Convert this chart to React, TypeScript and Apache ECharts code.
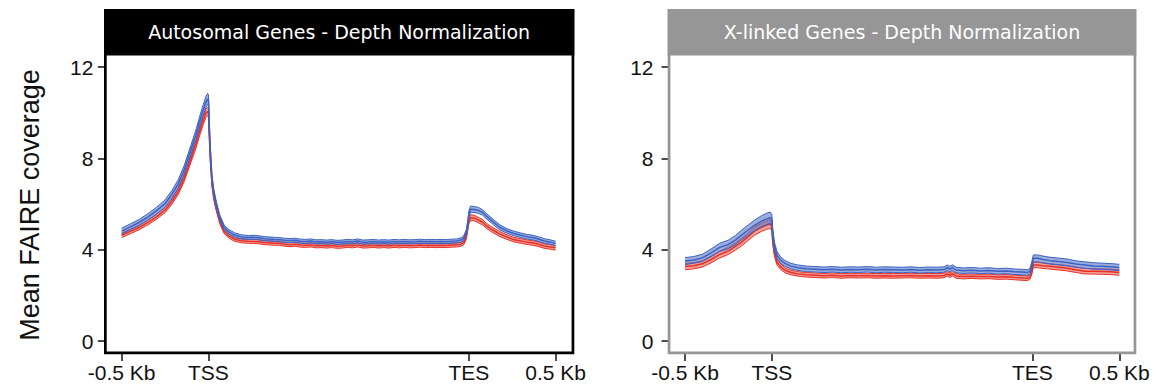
import React, { useEffect, useRef } from "react";
import * as echarts from "echarts";

// ---- axis ticks ----
const X_TICK_POS = [0, 100, 400, 500];
const X_TICK_LABELS = ["-0.5 Kb", "TSS", "TES", "0.5 Kb"];
const Y_TICK_POS = [0, 4, 8, 12];

const PANEL_TITLES = ["Autosomal Genes - Depth Normalization", "X-linked Genes - Depth Normalization"];
const Y_TITLE = "Mean FAIRE coverage";

// ---- Autosomal panel (metagene position: 0 = -0.5 Kb, 100 = TSS, 400 = TES, 500 = +0.5 Kb) ----
const AUTO_POS = [0, 10, 20, 30, 40, 50, 58, 65, 72, 80, 86, 90, 94, 97, 99, 100, 101, 102, 104, 106, 109, 113, 118, 124, 130, 138, 146, 152, 158, 164, 170, 176, 182, 188, 194, 200, 206, 212, 218, 224, 230, 236, 242, 248, 254, 260, 266, 272, 278, 284, 290, 296, 302, 308, 314, 320, 326, 332, 338, 344, 350, 356, 362, 368, 374, 380, 386, 391, 394, 397, 399, 400, 402, 406, 411, 416, 420, 428, 436, 444, 451, 460, 468, 474, 480, 487, 494, 500];
const AUTO_BLUE = [4.81, 5.0, 5.19, 5.43, 5.7, 6.02, 6.43, 6.87, 7.49, 8.4, 9.09, 9.63, 10.12, 10.46, 10.6, 10.55, 9.4, 8.45, 7.15, 6.55, 6.0, 5.42, 4.98, 4.77, 4.64, 4.56, 4.53, 4.54, 4.52, 4.48, 4.47, 4.45, 4.44, 4.41, 4.4, 4.41, 4.37, 4.36, 4.38, 4.34, 4.35, 4.33, 4.35, 4.32, 4.33, 4.36, 4.34, 4.38, 4.33, 4.34, 4.36, 4.33, 4.35, 4.33, 4.36, 4.34, 4.36, 4.34, 4.35, 4.37, 4.35, 4.36, 4.35, 4.36, 4.35, 4.37, 4.38, 4.42, 4.5, 4.75, 5.2, 5.55, 5.77, 5.76, 5.72, 5.63, 5.48, 5.22, 4.97, 4.82, 4.72, 4.63, 4.56, 4.53, 4.47, 4.38, 4.33, 4.27];
const AUTO_BLUE_SE = [0.13, 0.13, 0.13, 0.14, 0.15, 0.16, 0.17, 0.18, 0.19, 0.2, 0.21, 0.22, 0.23, 0.24, 0.24, 0.24, 0.2, 0.17, 0.14, 0.13, 0.12, 0.11, 0.1, 0.1, 0.1, 0.09, 0.09, 0.09, 0.09, 0.09, 0.09, 0.09, 0.09, 0.09, 0.09, 0.09, 0.09, 0.09, 0.09, 0.09, 0.09, 0.09, 0.09, 0.09, 0.09, 0.09, 0.09, 0.09, 0.09, 0.09, 0.09, 0.09, 0.09, 0.09, 0.09, 0.09, 0.09, 0.09, 0.09, 0.09, 0.09, 0.09, 0.09, 0.09, 0.09, 0.09, 0.09, 0.1, 0.1, 0.11, 0.12, 0.13, 0.14, 0.13, 0.13, 0.12, 0.12, 0.11, 0.11, 0.1, 0.1, 0.1, 0.1, 0.1, 0.1, 0.1, 0.1, 0.1];
const AUTO_RED = [4.63, 4.8, 4.97, 5.19, 5.44, 5.74, 6.12, 6.53, 7.12, 7.99, 8.66, 9.18, 9.66, 9.97, 10.05, 10.0, 9.0, 8.1, 6.9, 6.33, 5.8, 5.24, 4.8, 4.58, 4.46, 4.39, 4.37, 4.36, 4.35, 4.31, 4.3, 4.28, 4.28, 4.24, 4.22, 4.24, 4.2, 4.19, 4.21, 4.17, 4.18, 4.16, 4.18, 4.15, 4.16, 4.19, 4.17, 4.21, 4.16, 4.17, 4.19, 4.16, 4.18, 4.16, 4.19, 4.17, 4.19, 4.17, 4.18, 4.2, 4.18, 4.19, 4.18, 4.19, 4.18, 4.2, 4.21, 4.24, 4.3, 4.55, 5.0, 5.25, 5.4, 5.39, 5.3, 5.2, 5.05, 4.85, 4.68, 4.55, 4.45, 4.38, 4.32, 4.29, 4.24, 4.16, 4.12, 4.08];
const AUTO_RED_SE = [0.1, 0.1, 0.1, 0.11, 0.11, 0.12, 0.12, 0.13, 0.14, 0.15, 0.16, 0.17, 0.18, 0.18, 0.19, 0.19, 0.16, 0.14, 0.12, 0.11, 0.1, 0.1, 0.09, 0.09, 0.09, 0.09, 0.09, 0.09, 0.09, 0.09, 0.09, 0.09, 0.09, 0.09, 0.09, 0.09, 0.09, 0.09, 0.09, 0.09, 0.09, 0.09, 0.09, 0.09, 0.09, 0.09, 0.09, 0.09, 0.09, 0.09, 0.09, 0.09, 0.09, 0.09, 0.09, 0.09, 0.09, 0.09, 0.09, 0.09, 0.09, 0.09, 0.09, 0.09, 0.09, 0.09, 0.09, 0.09, 0.09, 0.1, 0.11, 0.12, 0.13, 0.12, 0.12, 0.12, 0.11, 0.11, 0.11, 0.1, 0.1, 0.1, 0.1, 0.1, 0.1, 0.1, 0.1, 0.1];

// ---- X-linked panel ----
const XL_POS = [0, 10, 20, 30, 40, 50, 58, 65, 72, 80, 88, 94, 98, 100, 101, 103, 106, 110, 115, 122, 130, 140, 150, 160, 170, 180, 190, 200, 210, 220, 230, 240, 250, 260, 270, 280, 290, 298, 302, 305, 308, 312, 320, 330, 340, 350, 360, 370, 380, 388, 394, 397, 399, 401, 406, 412, 420, 430, 440, 450, 460, 470, 480, 490, 500];
const XL_BLUE = [3.5, 3.55, 3.64, 3.86, 4.1, 4.23, 4.42, 4.64, 4.84, 5.06, 5.25, 5.35, 5.4, 5.3, 4.7, 4.15, 3.75, 3.55, 3.4, 3.28, 3.21, 3.16, 3.14, 3.12, 3.14, 3.11, 3.13, 3.12, 3.14, 3.11, 3.13, 3.12, 3.11, 3.13, 3.1, 3.12, 3.11, 3.13, 3.21, 3.15, 3.22, 3.11, 3.08, 3.1, 3.07, 3.09, 3.05, 3.07, 3.03, 3.02, 3.0, 3.05, 3.3, 3.62, 3.62, 3.57, 3.52, 3.48, 3.44, 3.37, 3.33, 3.29, 3.27, 3.25, 3.22];
const XL_BLUE_SE = [0.15, 0.15, 0.16, 0.17, 0.18, 0.19, 0.2, 0.21, 0.22, 0.23, 0.24, 0.25, 0.25, 0.24, 0.21, 0.18, 0.16, 0.14, 0.13, 0.12, 0.12, 0.12, 0.12, 0.12, 0.12, 0.12, 0.12, 0.12, 0.12, 0.12, 0.12, 0.12, 0.12, 0.12, 0.12, 0.12, 0.12, 0.12, 0.12, 0.12, 0.12, 0.12, 0.12, 0.12, 0.12, 0.12, 0.12, 0.12, 0.12, 0.12, 0.12, 0.12, 0.13, 0.15, 0.15, 0.15, 0.15, 0.15, 0.15, 0.14, 0.14, 0.14, 0.14, 0.14, 0.14];
const XL_RED = [3.26, 3.3, 3.38, 3.57, 3.79, 3.95, 4.14, 4.33, 4.55, 4.81, 4.98, 5.08, 5.12, 5.0, 4.4, 3.85, 3.45, 3.26, 3.1, 3.0, 2.94, 2.9, 2.88, 2.86, 2.88, 2.85, 2.87, 2.86, 2.87, 2.85, 2.86, 2.85, 2.86, 2.87, 2.85, 2.86, 2.85, 2.87, 2.94, 2.88, 2.95, 2.85, 2.82, 2.84, 2.82, 2.83, 2.8, 2.81, 2.78, 2.76, 2.75, 2.79, 3.0, 3.33, 3.33, 3.3, 3.27, 3.23, 3.19, 3.12, 3.06, 3.05, 3.04, 3.03, 3.0];
const XL_RED_SE = [0.14, 0.14, 0.14, 0.15, 0.15, 0.16, 0.16, 0.17, 0.17, 0.18, 0.18, 0.19, 0.19, 0.19, 0.17, 0.15, 0.13, 0.12, 0.11, 0.1, 0.1, 0.1, 0.1, 0.1, 0.1, 0.1, 0.1, 0.1, 0.1, 0.1, 0.1, 0.1, 0.1, 0.1, 0.1, 0.1, 0.1, 0.1, 0.1, 0.1, 0.1, 0.1, 0.1, 0.1, 0.1, 0.1, 0.1, 0.1, 0.1, 0.1, 0.1, 0.1, 0.11, 0.12, 0.12, 0.12, 0.12, 0.12, 0.12, 0.12, 0.12, 0.12, 0.12, 0.12, 0.12];

const BLUE_LINE = "#3b62c2";
const BLUE_FILL = "#5a78c8";
const RED_LINE = "#e8302a";
const RED_FILL = "#f08a7a";

function band(
  g: number,
  pos: number[],
  mean: number[],
  se: number[],
  lineColor: string,
  fill: string,
  fillOpacity: number,
  z: number
) {
  const rows = pos.map((x, i) => [x, mean[i] - se[i], mean[i] + se[i]]);
  const bandSeries = {
    type: "custom",
    xAxisIndex: g,
    yAxisIndex: g,
    silent: true,
    z,
    clip: true,
    data: rows,
    encode: { x: 0, y: [1, 2] },
    renderItem: (params: any, api: any) => {
      if (params.dataIndex !== 0) return null;
      const lo = rows.map((r) => api.coord([r[0], r[1]]));
      const hi = rows.map((r) => api.coord([r[0], r[2]]));
      const poly = hi.concat(lo.slice().reverse());
      return {
        type: "group",
        children: [
          { type: "polygon", shape: { points: poly }, style: { fill, opacity: fillOpacity } },
          { type: "polyline", shape: { points: hi }, style: { fill: "none", stroke: lineColor, lineWidth: 1 } },
          { type: "polyline", shape: { points: lo }, style: { fill: "none", stroke: lineColor, lineWidth: 1 } },
        ],
      };
    },
  };
  const meanSeries = {
    type: "line",
    xAxisIndex: g,
    yAxisIndex: g,
    symbol: "none",
    silent: true,
    z: z + 1,
    data: pos.map((x, i) => [x, mean[i]]),
    lineStyle: { color: lineColor, width: 1.5 },
  };
  return [bandSeries, meanSeries];
}

// layout of the two framed panels (pixels)
const FRAME_LEFT = [104, 667.7];
const FRAME_RIGHT = [574.3, 1136.3];
const FRAME_TOP = 9;
const FRAME_BOTTOM = 354.3;
const FRAME_W = 2.7;
const HEADER_H = 46.5;
const FRAME_COLORS = ["#000000", "#969696"];
const LABEL_MARGIN_Y = [12, 15.5];
// axis extents so that the frame border sits just outside the data range
const X_MIN = [-18.8, -18.36];
const X_MAX = [520.0, 518.0];
const Y_LO = -0.523;
const Y_HI = 12.504;

export default function App() {
  const ref = useRef<HTMLDivElement>(null);
  useEffect(() => {
    if (!ref.current) return;
    const chart = echarts.init(ref.current, null, { renderer: "svg" });
    const half = FRAME_W / 2;
    const gridTop = FRAME_TOP + HEADER_H;
    const gridBottom = FRAME_BOTTOM - half;
    const grids = [0, 1].map((g) => ({
      left: FRAME_LEFT[g] + half,
      width: FRAME_RIGHT[g] - FRAME_LEFT[g] - FRAME_W,
      top: gridTop,
      height: gridBottom - gridTop,
    }));
    const xAxes = [0, 1].map((g) => ({
      type: "value",
      gridIndex: g,
      position: "bottom",
      min: X_MIN[g],
      max: X_MAX[g],
      axisLine: { show: false, onZero: false },
      splitLine: { show: false },
      axisTick: { show: true, customValues: X_TICK_POS, length: 8, lineStyle: { color: "#111", width: 1.5 } },
      axisLabel: {
        customValues: X_TICK_POS,
        formatter: (v: number) => X_TICK_LABELS[X_TICK_POS.indexOf(v)] ?? "",
        fontFamily: "Liberation Sans",
        fontSize: 21,
        color: "#111",
        margin: 9,
      },
    }));
    const yAxes = [0, 1].map((g) => ({
      type: "value",
      gridIndex: g,
      position: "left",
      min: Y_LO,
      max: Y_HI,
      axisLine: { show: false, onZero: false },
      splitLine: { show: false },
      axisTick: { show: true, customValues: Y_TICK_POS, length: 7.5, lineStyle: { color: "#111", width: 1.5 } },
      axisLabel: {
        customValues: Y_TICK_POS,
        formatter: (v: number) => String(v),
        fontFamily: "Liberation Sans",
        fontSize: 21,
        color: "#111",
        margin: LABEL_MARGIN_Y[g],
      },
    }));
    const series = [
      ...band(0, AUTO_POS, AUTO_RED, AUTO_RED_SE, RED_LINE, RED_FILL, 0.8, 2),
      ...band(0, AUTO_POS, AUTO_BLUE, AUTO_BLUE_SE, BLUE_LINE, BLUE_FILL, 0.6, 4),
      ...band(1, XL_POS, XL_RED, XL_RED_SE, RED_LINE, RED_FILL, 0.8, 2),
      ...band(1, XL_POS, XL_BLUE, XL_BLUE_SE, BLUE_LINE, BLUE_FILL, 0.6, 4),
    ];
    const graphic: any[] = [];
    [0, 1].forEach((g) => {
      const l = FRAME_LEFT[g];
      const r = FRAME_RIGHT[g];
      const c = FRAME_COLORS[g];
      graphic.push({
        type: "rect",
        z: 100,
        shape: { x: l + half, y: FRAME_TOP + half, width: r - l - FRAME_W, height: FRAME_BOTTOM - FRAME_TOP - FRAME_W },
        style: { fill: "none", stroke: c, lineWidth: FRAME_W },
      });
      graphic.push({
        type: "rect",
        z: 101,
        shape: { x: l, y: FRAME_TOP, width: r - l, height: HEADER_H },
        style: { fill: c },
      });
      graphic.push({
        type: "text",
        z: 102,
        x: (l + r) / 2,
        y: 32,
        style: {
          text: PANEL_TITLES[g],
          fill: "#ffffff",
          fontFamily: "DejaVu Sans",
          fontSize: 19,
          align: "center",
          verticalAlign: "middle",
          textAlign: "center",
          textVerticalAlign: "middle",
        },
      });
    });
    graphic.push({
      type: "text",
      z: 102,
      x: 30,
      y: 205,
      rotation: Math.PI / 2,
      style: {
        text: Y_TITLE,
        fill: "#111",
        fontFamily: "Liberation Sans",
        fontSize: 27,
        align: "center",
        verticalAlign: "middle",
        textAlign: "center",
        textVerticalAlign: "middle",
      },
    });
    chart.setOption({
      animation: false,
      backgroundColor: "#ffffff",
      grid: grids,
      xAxis: xAxes,
      yAxis: yAxes,
      series,
      graphic,
    });
    return () => chart.dispose();
  }, []);
  return (
    <div
      ref={ref}
      style={{ position: "fixed", left: 0, top: 0, width: 1157, height: 391, background: "#fff" }}
    />
  );
}
